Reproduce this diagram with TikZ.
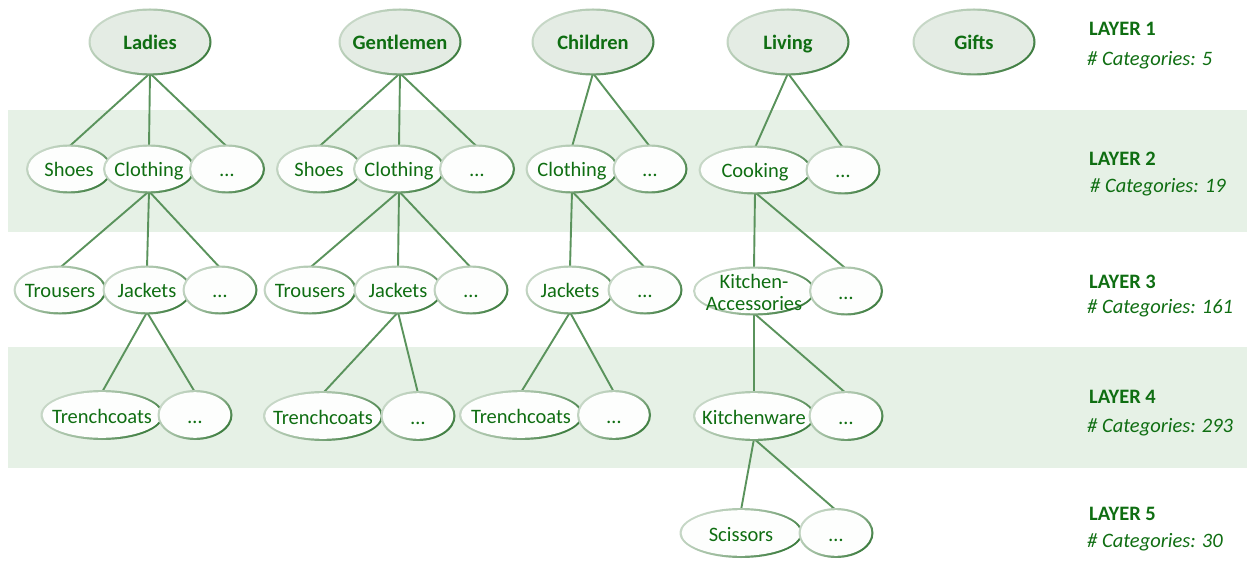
\documentclass[tikz,border=0pt]{standalone}
\usepackage{fontspec}
\setmainfont{Carlito}
\usetikzlibrary{shapes.geometric}
\definecolor{txt}{HTML}{0F6E12}
\definecolor{bandc}{HTML}{E6F1E6}
\definecolor{topfill}{HTML}{E4ECE4}
\definecolor{subfill}{HTML}{FDFEFD}
\definecolor{edgeA}{HTML}{C6D7C6}
\definecolor{edgeB}{HTML}{9CBB9C}
\definecolor{edgeC}{HTML}{3F7E41}
\definecolor{conn}{HTML}{5A935C}
\pgfdeclarelayer{bg}
\pgfsetlayers{bg,main}
\tikzset{
  catnode/.style={ellipse, inner sep=0pt, outer sep=0pt},
  lbl/.style={text=txt, inner sep=0pt, align=center, yshift=-1.5pt, font=\fontsize{20.5}{22}\selectfont},
  conline/.style={draw=conn, line width=1.9pt},
  bandbox/.style={fill=bandc},
  laytitle/.style={anchor=base west, inner sep=0pt, text=txt, font=\fontsize{20.5}{22}\selectfont\bfseries},
  laycount/.style={anchor=base west, inner sep=0pt, text=txt, font=\fontsize{20.5}{22}\selectfont\itshape},
}
% #1 extra label style, #2 name, #3 x, #4 y, #5 w, #6 h, #7 text, #8 fill
\newcommand\gn[8][text height=13pt,text depth=0pt]{%
  \shade[top color=edgeA, bottom color=edgeC, middle color=edgeB, shading angle=45]
    (#3,#4) ellipse [x radius=#5pt/2, y radius=#6pt/2];
  \node[catnode, fill=#8, minimum width=#5pt-4.4pt, minimum height=#6pt-4.4pt,
        label={[lbl,#1]center:#7}] (#2) at (#3,#4) {};
}
\begin{document}
\begin{tikzpicture}[x=1pt,y=-1pt]
\useasboundingbox (0,0) rectangle (1247,561);
\begin{pgfonlayer}{bg}
  \fill[bandbox] (8,110) rectangle (1247,232);
  \fill[bandbox] (8,347) rectangle (1247,468);
\end{pgfonlayer}

% Layer 1
\gn{ladies}{150}{42}{123}{67}{\bfseries Ladies}{topfill}
\gn{gent}{400}{42}{123}{67}{\bfseries Gentlemen}{topfill}
\gn{child}{593}{42}{123}{67}{\bfseries Children}{topfill}
\gn{living}{788}{42}{123}{67}{\bfseries Living}{topfill}
\gn{gifts}{974}{42}{123}{67}{\bfseries Gifts}{topfill}

% Layer 2
\gn{ltwoa}{69}{169}{86}{49}{Shoes}{subfill}
\gn{ltwob}{149}{169}{92}{49}{Clothing}{subfill}
\gn{ltwoc}{227}{169}{76}{49}{…}{subfill}
\gn{gtwoa}{319}{169}{86}{49}{Shoes}{subfill}
\gn{gtwob}{399}{169}{92}{49}{Clothing}{subfill}
\gn{gtwoc}{477}{169}{76}{49}{…}{subfill}
\gn{ctwob}{572}{169}{93}{49}{Clothing}{subfill}
\gn{ctwoc}{650}{169}{75}{49}{…}{subfill}
\gn{vtwob}{755}{170}{113}{49}{Cooking}{subfill}
\gn{vtwoc}{843}{170}{75}{49}{…}{subfill}

% Layer 3
\gn{lthra}{60}{290}{93}{49}{Trousers}{subfill}
\gn{lthrb}{147}{290}{89}{49}{Jackets}{subfill}
\gn{lthrc}{220}{290}{75}{49}{…}{subfill}
\gn{gthra}{310}{290}{93}{49}{Trousers}{subfill}
\gn{gthrb}{398}{290}{89}{49}{Jackets}{subfill}
\gn{gthrc}{471}{290}{75}{49}{…}{subfill}
\gn{cthrb}{570}{290}{89}{49}{Jackets}{subfill}
\gn{cthrc}{645}{290}{75}{49}{…}{subfill}
\gn[]{vthrb}{754}{291}{122}{49}{Kitchen-\\Accessories}{subfill}
\gn{vthrc}{846}{291}{74}{49}{…}{subfill}

% Layer 4
\gn{lfoua}{102}{415}{123}{50}{Trenchcoats}{subfill}
\gn{lfoub}{195}{415}{75}{50}{…}{subfill}
\gn{gfoua}{323}{416}{120}{50}{Trenchcoats}{subfill}
\gn{gfoub}{418}{416}{75}{50}{…}{subfill}
\gn{cfoua}{521}{415}{124}{50}{Trenchcoats}{subfill}
\gn{cfoub}{614}{415}{74}{50}{…}{subfill}
\gn{vfoua}{754}{416}{122}{50}{Kitchenware}{subfill}
\gn{vfoub}{846}{416}{75}{50}{…}{subfill}

% Layer 5
\gn{vfiva}{741}{533}{123}{50}{Scissors}{subfill}
\gn{vfivb}{836}{533}{75}{50}{…}{subfill}

% connectors
\begin{pgfonlayer}{bg}
  \foreach \p/\c in {ladies/ltwoa, ladies/ltwob, ladies/ltwoc,
                     gent/gtwoa, gent/gtwob, gent/gtwoc,
                     child/ctwob, child/ctwoc,
                     living/vtwob, living/vtwoc,
                     ltwob/lthra, ltwob/lthrb, ltwob/lthrc,
                     gtwob/gthra, gtwob/gthrb, gtwob/gthrc,
                     ctwob/cthrb, ctwob/cthrc,
                     vtwob/vthrb, vtwob/vthrc,
                     lthrb/lfoua, lthrb/lfoub,
                     gthrb/gfoua, gthrb/gfoub,
                     cthrb/cfoua, cthrb/cfoub,
                     vthrb/vfoua, vthrb/vfoub,
                     vfoua/vfiva, vfoua/vfivb}
    \draw[conline] (\p.south) -- (\c.north);
\end{pgfonlayer}

% layer labels
\node[laytitle] (la1) at (1089,35.5) {LAYER 1};
\node[laycount] (lc1) at (1087,65.5) {\# Categories: 5};
\node[laytitle] (la2) at (1089,165.5) {LAYER 2};
\node[laycount] (lc2) at (1090,192.5) {\# Categories: 19};
\node[laytitle] (la3) at (1089,288.5) {LAYER 3};
\node[laycount] (lc3) at (1087,313.5) {\# Categories: 161};
\node[laytitle] (la4) at (1089,403.5) {LAYER 4};
\node[laycount] (lc4) at (1087,432.5) {\# Categories: 293};
\node[laytitle] (la5) at (1089,520.5) {LAYER 5};
\node[laycount] (lc5) at (1087,547.5) {\# Categories: 30};
\end{tikzpicture}
\end{document}
